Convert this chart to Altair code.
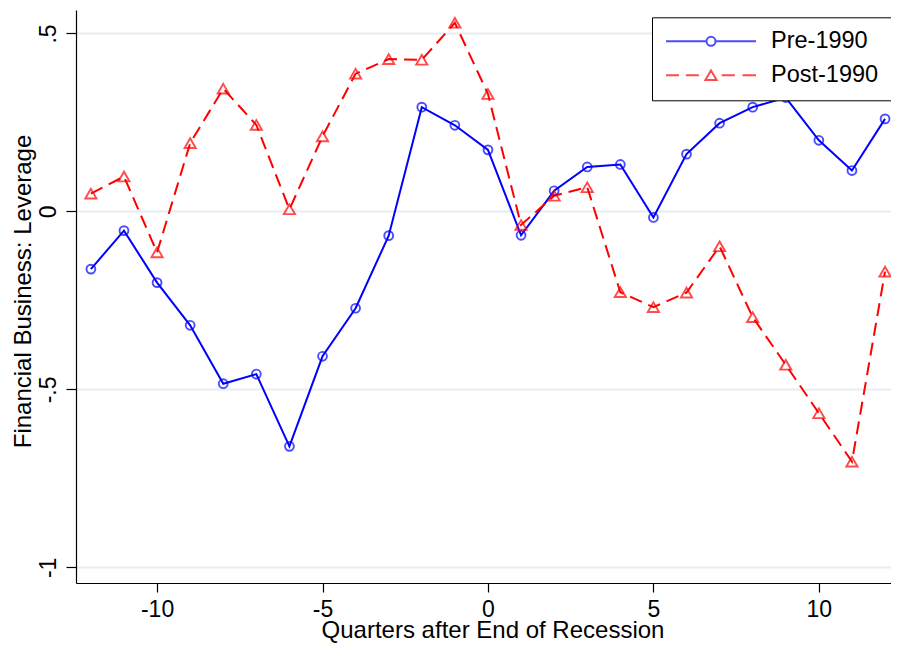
import altair as alt
import pandas as pd

# ---- data ----
quarters = list(range(-12, 13))
pre_1990 = [-0.162, -0.054, -0.200, -0.320, -0.484, -0.457, -0.660, -0.407, -0.272,
            -0.068, 0.293, 0.242, 0.173, -0.067, 0.058, 0.125, 0.132, -0.017,
            0.161, 0.248, 0.293, 0.320, 0.200, 0.115, 0.260]
post_1990 = [0.050, 0.098, -0.115, 0.192, 0.345, 0.243, 0.006, 0.211, 0.387,
             0.428, 0.426, 0.530, 0.330, -0.038, 0.044, 0.068, -0.227, -0.269,
             -0.228, -0.098, -0.297, -0.431, -0.567, -0.703, -0.169]
series_names = ["Pre-1990", "Post-1990"]
x_ticks = [-10, -5, 0, 5, 10]
y_ticks = [-1, -0.5, 0, 0.5]

df = pd.DataFrame({
    "quarter": quarters * 2,
    "value": pre_1990 + post_1990,
    "series": [series_names[0]] * len(quarters) + [series_names[1]] * len(quarters),
})

FONT = "Liberation Sans"
BLUE = "#0000ff"
RED = "#ff0000"

x_enc = alt.X(
    "quarter:Q",
    scale=alt.Scale(domain=[-12.45, 12.18], nice=False, zero=False),
    axis=alt.Axis(
        values=x_ticks, title="Quarters after End of Recession", grid=False,
        labelExpr="toString(datum.value)",
        labelFont=FONT, labelFontSize=23, labelColor="black",
        labelBaseline="alphabetic", labelPadding=24, labelFlush=False, labelOverlap=False,
        tickSize=9, tickWidth=1.2, tickColor="black",
        domainColor="black", domainWidth=1.2,
        titleFont=FONT, titleFontSize=24, titleFontWeight="normal", titleColor="black",
        titleX=416.5, titleY=54.3, titleBaseline="alphabetic", titleAlign="center",
    ),
)
y_enc = alt.Y(
    "value:Q",
    scale=alt.Scale(domain=[-1.044, 0.566], nice=False, zero=False),
    axis=alt.Axis(
        values=y_ticks, title="Financial Business: Leverage",
        labelExpr="replace(toString(datum.value), '0.', '.')",
        grid=True, gridColor="#e6eef3", gridWidth=2,
        labelFont=FONT, labelFontSize=23, labelColor="black",
        labelAngle=270, labelAlign="center", labelBaseline="alphabetic", labelPadding=11,
        tickSize=10, tickWidth=1.2, tickColor="black",
        domainColor="black", domainWidth=1.2,
        titleFont=FONT, titleFontSize=24, titleFontWeight="normal", titleColor="black",
        titleAngle=270, titleX=-46, titleY=281, titleBaseline="alphabetic", titleAlign="center",
    ),
)

base = alt.Chart(df)
pre_filter = alt.datum.series == series_names[0]
post_filter = alt.datum.series == series_names[1]

line_pre = base.transform_filter(pre_filter).mark_line(color=BLUE, strokeWidth=2).encode(x=x_enc, y=y_enc)
pts_pre = base.transform_filter(pre_filter).mark_point(
    shape="circle", filled=False, color=BLUE, size=78, strokeWidth=1.9).encode(x=x_enc, y=y_enc)
line_post = base.transform_filter(post_filter).mark_line(
    color=RED, strokeWidth=2, strokeDash=[13, 7]).encode(x=x_enc, y=y_enc)
pts_post = base.transform_filter(post_filter).mark_point(
    shape="triangle-up", filled=False, color=RED, size=125, strokeWidth=1.9).encode(x=x_enc, y=y_enc)

pre_path = "M-1,0H-0.1M0.1,0H1M0.1,0A0.1,0.1,0,1,1,-0.1,0A0.1,0.1,0,1,1,0.1,0Z"
post_path = ("M-1,0H-0.71M-0.56,0H-0.27M0.24,0H0.53M0.7,0H1"
             "M0,-0.105L0.125,0.105L-0.125,0.105Z")

legend = alt.Legend(
    orient="none", legendX=576, legendY=7.3, title=None, direction="vertical",
    padding=13, strokeColor="black", fillColor="white",
    symbolSize=8100, symbolStrokeWidth=2, symbolFillColor="transparent",
    clipHeight=22, rowPadding=10,
    labelFont=FONT, labelFontSize=23.5, labelColor="black", labelOffset=14, labelLimit=400,
)
legend_layer = base.transform_filter("false").mark_point(filled=False, strokeWidth=2).encode(
    color=alt.Color("series:N", scale=alt.Scale(domain=series_names, range=[BLUE, RED]), legend=legend),
    shape=alt.Shape("series:N", scale=alt.Scale(domain=series_names, range=[pre_path, post_path]), legend=legend),
)

chart = alt.layer(line_pre, line_post, pts_pre, pts_post, legend_layer).properties(
    width=815, height=573,
    autosize=alt.AutoSizeParams(type="none"),
    padding={"left": 68, "top": 2, "right": 0, "bottom": 61},
    background="white",
).configure_view(stroke=None)

chart.save("out.html", embed_options={"renderer": "svg", "actions": False})
